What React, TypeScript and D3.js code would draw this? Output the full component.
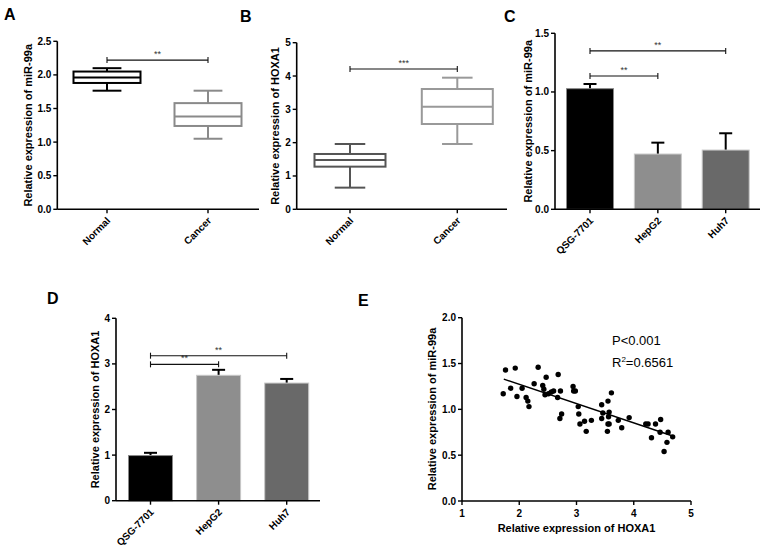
import React, { useEffect } from "react";
import * as d3 from "d3";

const FONT = "'Liberation Sans', Arial, Helvetica, sans-serif";

// ---------- Data ----------
const boxCategories = ["Normal", "Cancer"];
// Panel A: miR-99a box plot (min, q1, median, q3, max)
const mirMin = [1.765, 1.05];
const mirQ1 = [1.88, 1.24];
const mirMedian = [1.96, 1.38];
const mirQ3 = [2.05, 1.58];
const mirMax = [2.1, 1.765];
const mirColors = ["#000000", "#8a8a8a"];
const mirYTicks = [0, 0.5, 1.0, 1.5, 2.0, 2.5];

// Panel B: HOXA1 box plot
const hoxMin = [0.65, 1.96];
const hoxQ1 = [1.28, 2.56];
const hoxMedian = [1.48, 3.08];
const hoxQ3 = [1.66, 3.61];
const hoxMax = [1.96, 3.95];
const hoxColors = ["#555555", "#999999"];
const hoxYTicks = [0, 1, 2, 3, 4, 5];

// Panel C / D: cell lines
const cellLines = ["QSG-7701", "HepG2", "Huh7"];
const cellColors = ["#000000", "#8e8e8e", "#696969"];
const cMir = [1.028, 0.471, 0.505];
const cMirErr = [0.04, 0.097, 0.143];
const cYTicks = [0, 0.5, 1.0, 1.5];
const dHox = [0.99, 2.75, 2.58];
const dHoxErr = [0.06, 0.12, 0.09];
const dYTicks = [0, 1, 2, 3, 4];

// Significance brackets: [fromIndex, toIndex, yValue, label]
const sigA: [number, number, number, string][] = [[0, 1, 2.22, "**"]];
const sigB: [number, number, number, string][] = [[0, 1, 4.21, "***"]];
const sigC: [number, number, number, string][] = [
  [0, 1, 1.136, "**"],
  [0, 2, 1.35, "**"],
];
const sigD: [number, number, number, string][] = [
  [0, 1, 2.99, "**"],
  [0, 2, 3.18, "**"],
];

// Panel E: scatter
const hoxa1Values = [
  1.72, 1.76, 1.85, 1.93, 1.96, 2.05, 2.12, 2.15, 2.17, 2.26, 2.33, 2.41, 2.43, 2.45,
  2.47, 2.51, 2.56, 2.6, 2.67, 2.68, 2.72, 2.71, 2.74, 2.94, 2.95, 2.98, 3.03, 3.04,
  3.06, 3.14, 3.17, 3.26, 3.44, 3.44, 3.46, 3.55, 3.54, 3.55, 3.56, 3.57, 3.57, 3.61,
  3.73, 3.79, 3.92, 4.21, 4.25, 4.31, 4.38, 4.47, 4.46, 4.53, 4.58, 4.6, 4.68,
];
const mir99aValues = [
  1.17, 1.43, 1.23, 1.45, 1.14, 1.23, 1.13, 1.09, 1.03, 1.28, 1.46, 1.26, 1.22, 1.16,
  1.35, 1.17, 1.19, 1.2, 1.13, 1.38, 1.2, 0.9, 0.95, 1.25, 1.2, 1.2, 1.03, 0.95,
  0.84, 0.87, 0.76, 0.88, 1.05, 0.9, 0.96, 0.84, 0.76, 1.09, 0.92, 0.97, 0.84, 1.18,
  0.88, 0.8, 0.91, 0.84, 0.84, 0.69, 0.84, 0.89, 0.75, 0.54, 0.64, 0.75, 0.7,
];
const fitX = [1.73, 4.68];
const fitY = [1.33, 0.71];
const eXTicks = [1, 2, 3, 4, 5];
const eYTicks = [0, 0.5, 1.0, 1.5, 2.0];

// ---------- Helpers ----------
function YAxis({ scale, x, ticks, fmt }: any) {
  const [d0, d1] = scale.domain();
  return (
    <g>
      <line x1={x} x2={x} y1={scale(d0)} y2={scale(d1)} stroke="#000" strokeWidth={1.6} />
      {ticks.map((t: number) => (
        <g key={t}>
          <line x1={x - 4} x2={x} y1={scale(t)} y2={scale(t)} stroke="#000" strokeWidth={1.4} />
          <text
            x={x - 6}
            y={scale(t)}
            dy="0.35em"
            textAnchor="end"
            fontSize={10}
            fontWeight="bold"
            fontFamily={FONT}
          >
            {fmt(t)}
          </text>
        </g>
      ))}
    </g>
  );
}

function YLabel({ x, y, text }: any) {
  return (
    <text
      transform={`translate(${x},${y}) rotate(-90)`}
      textAnchor="middle"
      fontSize={11}
      fontWeight="bold"
      fontFamily={FONT}
    >
      {text}
    </text>
  );
}

function CatXAxis({ scale, y, x0, x1, cats }: any) {
  return (
    <g>
      <line x1={x0} x2={x1} y1={y} y2={y} stroke="#000" strokeWidth={1.6} />
      {cats.map((c: string) => (
        <g key={c}>
          <line x1={scale(c)} x2={scale(c)} y1={y} y2={y + 4} stroke="#000" strokeWidth={1.4} />
          <text
            transform={`translate(${scale(c) + 4},${y + 12}) rotate(-45)`}
            textAnchor="end"
            fontSize={10}
            fontWeight="bold"
            fontFamily={FONT}
          >
            {c}
          </text>
        </g>
      ))}
    </g>
  );
}

function SigBars({ sig, xs, y }: any) {
  return (
    <g>
      {sig.map(([a, b, v, lab]: any, i: number) => {
        const xa = xs[a];
        const xb = xs[b];
        const yy = y(v);
        return (
          <g key={i}>
            <line x1={xa} x2={xb} y1={yy} y2={yy} stroke="#111" strokeWidth={1.1} />
            <line x1={xa} x2={xa} y1={yy - 3} y2={yy + 3} stroke="#111" strokeWidth={1.1} />
            <line x1={xb} x2={xb} y1={yy - 3} y2={yy + 3} stroke="#111" strokeWidth={1.1} />
            <text
              x={(xa + xb) / 2}
              y={yy - 3}
              textAnchor="middle"
              fontSize={9}
              fill="#333"
              fontFamily={FONT}
            >
              {lab}
            </text>
          </g>
        );
      })}
    </g>
  );
}

function PanelLetter({ x, y, t }: any) {
  return (
    <text x={x} y={y} fontSize={16} fontWeight="bold" fontFamily={FONT}>
      {t}
    </text>
  );
}

function BoxPanel({ xRange, axisX, axisEnd, yRange, yMax, ticks, fmt, mins, q1s, meds, q3s, maxs, colors, boxW, sig, label, labelX }: any) {
  const x = d3.scalePoint().domain(boxCategories).range(xRange);
  const y = d3.scaleLinear().domain([0, yMax]).range(yRange);
  const xs = boxCategories.map((c) => x(c) as number);
  const capW = boxW * 0.43;
  return (
    <g>
      {boxCategories.map((c, i) => {
        const cx = x(c) as number;
        const col = colors[i];
        return (
          <g key={c} stroke={col} strokeWidth={2} fill="none">
            <line x1={cx} x2={cx} y1={y(maxs[i])} y2={y(q3s[i])} />
            <line x1={cx} x2={cx} y1={y(q1s[i])} y2={y(mins[i])} />
            <line x1={cx - capW / 2} x2={cx + capW / 2} y1={y(maxs[i])} y2={y(maxs[i])} />
            <line x1={cx - capW / 2} x2={cx + capW / 2} y1={y(mins[i])} y2={y(mins[i])} />
            <rect x={cx - boxW / 2} y={y(q3s[i])} width={boxW} height={y(q1s[i]) - y(q3s[i])} />
            <line x1={cx - boxW / 2} x2={cx + boxW / 2} y1={y(meds[i])} y2={y(meds[i])} />
          </g>
        );
      })}
      <YAxis scale={y} x={axisX} ticks={ticks} fmt={fmt} />
      <CatXAxis scale={x} y={y(0)} x0={axisX} x1={axisEnd} cats={boxCategories} />
      <SigBars sig={sig} xs={xs} y={y} />
      <YLabel x={labelX} y={(yRange[0] + yRange[1]) / 2} text={label} />
    </g>
  );
}

function BarPanel({ xRange, axisX, axisEnd, yRange, yMax, ticks, fmt, vals, errs, barW, sig, label, labelX }: any) {
  const x = d3.scalePoint().domain(cellLines).range(xRange);
  const y = d3.scaleLinear().domain([0, yMax]).range(yRange);
  const xs = cellLines.map((c) => x(c) as number);
  const capW = 13;
  return (
    <g>
      {cellLines.map((c, i) => {
        const cx = x(c) as number;
        return (
          <g key={c}>
            <line x1={cx} x2={cx} y1={y(vals[i])} y2={y(vals[i] + errs[i])} stroke="#000" strokeWidth={2} />
            <line x1={cx - capW / 2} x2={cx + capW / 2} y1={y(vals[i] + errs[i])} y2={y(vals[i] + errs[i])} stroke="#000" strokeWidth={2} />
            <rect
              x={cx - barW / 2}
              y={y(vals[i])}
              width={barW}
              height={y(0) - y(vals[i])}
              fill={cellColors[i]}
              stroke={i === 0 ? "#888" : "#c8c8c8"}
              strokeWidth={1}
            />
          </g>
        );
      })}
      <YAxis scale={y} x={axisX} ticks={ticks} fmt={fmt} />
      <CatXAxis scale={x} y={y(0)} x0={axisX} x1={axisEnd} cats={cellLines} />
      <SigBars sig={sig} xs={xs} y={y} />
      <YLabel x={labelX} y={(yRange[0] + yRange[1]) / 2} text={label} />
    </g>
  );
}

function ScatterPanel() {
  const x = d3.scaleLinear().domain([1, 5]).range([462, 691]);
  const y = d3.scaleLinear().domain([0, 2]).range([501, 317.7]);
  const line = d3
    .line<number>()
    .x((_, i) => x(fitX[i]))
    .y((d) => y(d));
  return (
    <g>
      {hoxa1Values.map((v, i) => (
        <circle key={i} cx={x(v)} cy={y(mir99aValues[i])} r={2.7} fill="#000" />
      ))}
      <path d={line(fitY) || ""} stroke="#000" strokeWidth={1.5} fill="none" />
      <YAxis scale={y} x={x(1)} ticks={eYTicks} fmt={d3.format(".1f")} />
      <line x1={x(1)} x2={x(5)} y1={y(0)} y2={y(0)} stroke="#000" strokeWidth={1.6} />
      {eXTicks.map((t) => (
        <g key={t}>
          <line x1={x(t)} x2={x(t)} y1={y(0)} y2={y(0) + 4} stroke="#000" strokeWidth={1.4} />
          <text x={x(t)} y={y(0) + 16} textAnchor="middle" fontSize={10} fontWeight="bold" fontFamily={FONT}>
            {t}
          </text>
        </g>
      ))}
      <text x={(x(1) + x(5)) / 2} y={531.5} textAnchor="middle" fontSize={11} fontWeight="bold" fontFamily={FONT}>
        Relative expression of HOXA1
      </text>
      <YLabel x={435.5} y={409} text="Relative expression of miR-99a" />
      <text x={612} y={345} fontSize={13} fontFamily={FONT}>
        P&lt;0.001
      </text>
      <text x={612} y={367} fontSize={13} fontFamily={FONT}>
        R<tspan dy={-5} fontSize={8}>2</tspan>
        <tspan dy={5}>=0.6561</tspan>
      </text>
    </g>
  );
}

export default function App() {
  useEffect(() => {
    document.body.style.margin = "0";
  }, []);
  const f1 = d3.format(".1f");
  const f0 = d3.format("d");
  return (
    <svg width={765} height={551} style={{ position: "absolute", left: 0, top: 0, background: "#fff" }}>
      <rect width={765} height={551} fill="#fff" />
      <PanelLetter x={4} y={19.5} t="A" />
      <PanelLetter x={240} y={22} t="B" />
      <PanelLetter x={504} y={22} t="C" />
      <PanelLetter x={47} y={303.5} t="D" />
      <PanelLetter x={358} y={306} t="E" />

      <BoxPanel
        xRange={[107, 208]}
        axisX={57.3}
        axisEnd={259}
        yRange={[209.3, 41.3]}
        yMax={2.5}
        ticks={mirYTicks}
        fmt={f1}
        mins={mirMin}
        q1s={mirQ1}
        meds={mirMedian}
        q3s={mirQ3}
        maxs={mirMax}
        colors={mirColors}
        boxW={67}
        sig={sigA}
        label="Relative expression of miR-99a"
        labelX={32}
      />
      <BoxPanel
        xRange={[350, 457.3]}
        axisX={296.7}
        axisEnd={507}
        yRange={[209.3, 42.7]}
        yMax={5}
        ticks={hoxYTicks}
        fmt={f0}
        mins={hoxMin}
        q1s={hoxQ1}
        meds={hoxMedian}
        q3s={hoxQ3}
        maxs={hoxMax}
        colors={hoxColors}
        boxW={71}
        sig={sigB}
        label="Relative expression of HOXA1"
        labelX={279}
      />
      <BarPanel
        xRange={[590, 725.7]}
        axisX={555}
        axisEnd={760}
        yRange={[209.3, 33.3]}
        yMax={1.5}
        ticks={cYTicks}
        fmt={f1}
        vals={cMir}
        errs={cMirErr}
        barW={47}
        sig={sigC}
        label="Relative expression of miR-99a"
        labelX={532}
      />
      <BarPanel
        xRange={[150.5, 286.7]}
        axisX={116}
        axisEnd={320}
        yRange={[500.7, 318.3]}
        yMax={4}
        ticks={dYTicks}
        fmt={f0}
        vals={dHox}
        errs={dHoxErr}
        barW={44}
        sig={sigD}
        label="Relative expression of HOXA1"
        labelX={99}
      />
      <ScatterPanel />
    </svg>
  );
}
